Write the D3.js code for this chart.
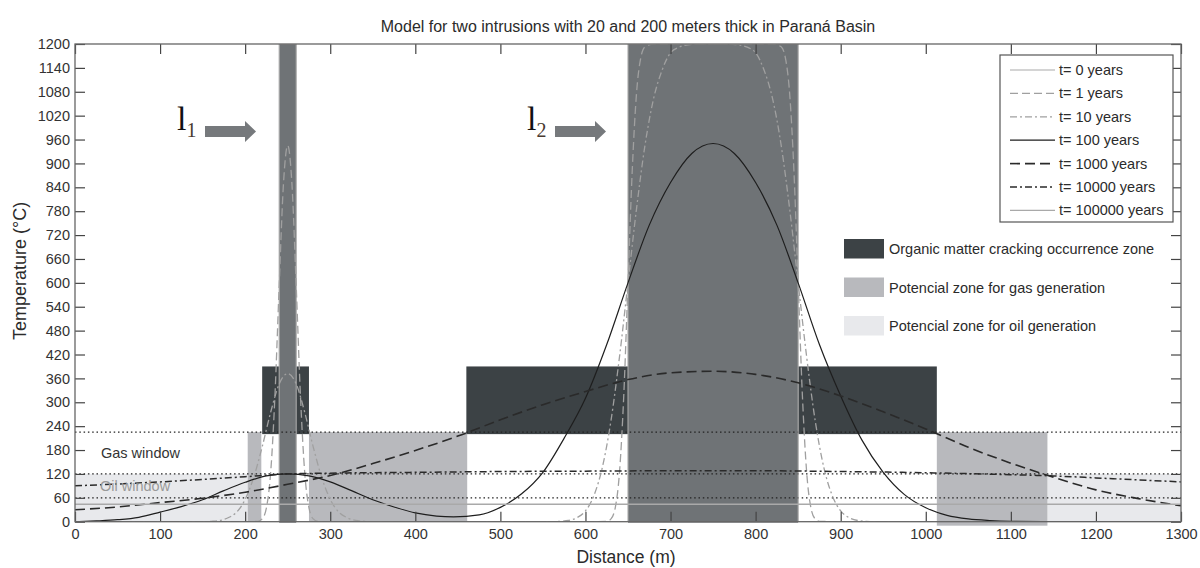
<!DOCTYPE html>
<html>
<head>
<meta charset="utf-8">
<script src="https://cdn.jsdelivr.net/npm/d3@7/dist/d3.min.js"></script>
<style>
  body { margin: 0; background: #fff; }
  text { font-family: "Liberation Sans", Arial, sans-serif; fill: #2b2b2b; }
</style>
</head>
<body>
<div id="chart"></div>
<script>
// axis ticks
const xTicks = [0, 100, 200, 300, 400, 500, 600, 700, 800, 900, 1000, 1100, 1200, 1300];
const yTicks = [0, 60, 120, 180, 240, 300, 360, 420, 480, 540, 600, 660, 720, 780, 840, 900, 960, 1020, 1080, 1140, 1200];

// shaded zones: [x0, x1] in metres, temperature range separately
const intrusions = [[240, 260], [650, 850]];
const intrusionTemp = [0, 1200];
const crackingZones = [[220, 275], [460, 650], [850, 1013]];
const crackingTemp = [220, 390];
const gasZones = [[203, 219, 0], [275, 461, 0], [1013, 1143, -10]];
const gasTop = 225;
const oilZones = [[0, 203], [1143, 1300]];
const oilTop = 120;
const windowLines = [225, 120, 60];

// temperature profiles [distance, temperature]
const t0 = [[0, 0], [240, 0], [240, 1200], [260, 1200], [260, 0], [650, 0], [650, 1200], [850, 1200], [850, 0], [1300, 0]];
const t1 = [[0, 0], [200, 0], [215, 1], [220, 7], [225, 35], [230, 124], [235, 316], [240, 593], [245, 848], [250, 945],
  [255, 848], [260, 593], [265, 316], [270, 124], [275, 35], [280, 7], [285, 1], [300, 0], [600, 0], [625, 1], [630, 7],
  [635, 35], [640, 124], [645, 316], [650, 600], [655, 883], [660, 1076], [665, 1165], [670, 1193], [680, 1200],
  [820, 1200], [830, 1193], [835, 1165], [840, 1076], [845, 883], [850, 600], [855, 316], [860, 124], [865, 35],
  [870, 7], [875, 1], [900, 0], [1300, 0]];
const t10 = [[0, 0], [150, 0], [160, 1], [170, 3], [180, 10], [190, 24], [200, 56], [210, 111], [220, 188], [230, 275],
  [240, 346], [250, 372], [260, 346], [270, 275], [280, 188], [290, 111], [300, 56], [310, 24], [320, 10], [330, 3],
  [340, 1], [350, 0], [560, 0], [570, 1], [580, 3], [590, 10], [600, 27], [610, 66], [620, 138], [630, 254], [640, 414],
  [650, 600], [660, 786], [670, 946], [680, 1062], [690, 1134], [700, 1178], [710, 1192], [720, 1198], [735, 1200],
  [765, 1200], [780, 1198], [790, 1192], [800, 1178], [810, 1134], [820, 1062], [830, 946], [840, 786], [850, 600],
  [860, 414], [870, 254], [880, 138], [890, 66], [900, 27], [910, 10], [920, 3], [930, 1], [940, 0], [1300, 0]];
const t100 = [[0, 0], [25, 2], [50, 5], [75, 11], [100, 24], [125, 38], [150, 55], [175, 78], [200, 99], [225, 115],
  [250, 120], [275, 115], [300, 100], [325, 78], [350, 55], [375, 37], [400, 22], [425, 14], [445, 12], [475, 17],
  [500, 36], [525, 70], [550, 124], [575, 210], [600, 310], [625, 445], [650, 600], [675, 745], [700, 852], [725, 925],
  [750, 950], [775, 925], [800, 852], [825, 745], [850, 600], [875, 445], [900, 316], [925, 205], [950, 124],
  [975, 68], [1000, 35], [1025, 16], [1050, 7], [1075, 3], [1100, 1], [1150, 0], [1300, 0]];
const t1000 = [[0, 30], [50, 37], [100, 48], [150, 59], [200, 74], [250, 94], [300, 116], [350, 146], [400, 179],
  [450, 215], [500, 256], [550, 294], [600, 327], [650, 357], [700, 374], [750, 378], [800, 370], [850, 349],
  [900, 316], [950, 276], [1000, 233], [1050, 187], [1100, 147], [1150, 112], [1200, 80], [1250, 58], [1300, 40]];
const t10000 = [[0, 90], [100, 100], [200, 113], [250, 120], [300, 122], [400, 124], [500, 126], [600, 127], [700, 128],
  [800, 128], [900, 126], [1000, 123], [1100, 118], [1150, 115], [1200, 110], [1250, 105], [1300, 100]];
const t100000 = [[0, 44], [325, 44], [650, 44], [975, 44], [1300, 44]];

const seriesLabels = ["t= 0 years", "t= 1 years", "t= 10 years", "t= 100 years", "t= 1000 years", "t= 10000 years", "t= 100000 years"];
const seriesData = [t0, t1, t10, t100, t1000, t10000, t100000];
const seriesStyle = [
  {stroke: "#a9a9a9", width: 1.1, dash: null},
  {stroke: "#a0a0a0", width: 1.3, dash: "8,4"},
  {stroke: "#a0a0a0", width: 1.3, dash: "7,3,2,3"},
  {stroke: "#1e1e1e", width: 1.2, dash: null},
  {stroke: "#2a2a2a", width: 1.6, dash: "10,5"},
  {stroke: "#2a2a2a", width: 1.5, dash: "7,3,2,3"},
  {stroke: "#a9a9a9", width: 1.4, dash: null}
];

const zoneLabels = ["Organic matter cracking occurrence zone", "Potencial zone for gas generation", "Potencial zone for oil generation"];
const zoneColors = ["#3c4245", "#b8b9bd", "#e8e9ec"];
const intrusionColor = "#6f7376";

const sans = "'Liberation Sans', Arial, sans-serif";
const serif = "'Liberation Serif', 'Times New Roman', serif";

const width = 1200, height = 568;
const margin = {top: 44, right: 19, bottom: 46.3, left: 75};

const svg = d3.select("#chart")
  .append("svg")
    .attr("width", width)
    .attr("height", height);

const x = d3.scaleLinear()
  .domain([0, 1300])
  .range([margin.left, width - margin.right]);

const y = d3.scaleLinear()
  .domain([0, 1200])
  .range([height - margin.bottom, margin.top]);

svg.append("clipPath").attr("id", "plotclip")
  .append("rect")
    .attr("x", x(0)).attr("y", y(1200))
    .attr("width", x(1300) - x(0)).attr("height", y(0) - y(1200));

const zones = svg.append("g");

// oil window zones
zones.selectAll(".oil")
  .data(oilZones)
  .join("rect")
    .attr("x", d => x(d[0]))
    .attr("y", y(oilTop))
    .attr("width", d => x(d[1]) - x(d[0]))
    .attr("height", y(0) - y(oilTop))
    .attr("fill", zoneColors[2]);

// gas zones
zones.selectAll(".gas")
  .data(gasZones)
  .join("rect")
    .attr("x", d => x(d[0]))
    .attr("y", y(gasTop))
    .attr("width", d => x(d[1]) - x(d[0]))
    .attr("height", d => y(d[2]) - y(gasTop))
    .attr("fill", zoneColors[1]);

// cracking zones
zones.selectAll(".crack")
  .data(crackingZones)
  .join("rect")
    .attr("x", d => x(d[0]))
    .attr("y", y(crackingTemp[1]))
    .attr("width", d => x(d[1]) - x(d[0]))
    .attr("height", y(crackingTemp[0]) - y(crackingTemp[1]))
    .attr("fill", zoneColors[0]);

// intrusions
zones.selectAll(".intr")
  .data(intrusions)
  .join("rect")
    .attr("x", d => x(d[0]))
    .attr("y", y(intrusionTemp[1]))
    .attr("width", d => x(d[1]) - x(d[0]))
    .attr("height", y(intrusionTemp[0]) - y(intrusionTemp[1]) + 1)
    .attr("fill", intrusionColor);

// window boundaries
svg.append("g")
  .selectAll("line")
  .data(windowLines)
  .join("line")
    .attr("x1", x(0)).attr("x2", x(1300))
    .attr("y1", d => y(d)).attr("y2", d => y(d))
    .attr("stroke", "#222")
    .attr("stroke-width", 1.3)
    .attr("stroke-dasharray", "1.5,2.8");

// curves
const line = d3.line()
  .x(d => x(d[0]))
  .y(d => y(d[1]))
  .curve(d3.curveMonotoneX);
const stepLine = d3.line()
  .x(d => x(d[0]))
  .y(d => y(d[1]));

svg.append("g")
  .attr("clip-path", "url(#plotclip)")
  .selectAll("path")
  .data(seriesData)
  .join("path")
    .attr("d", (d, i) => i == 0 ? stepLine(d) : line(d))
    .attr("fill", "none")
    .attr("stroke", (d, i) => seriesStyle[i].stroke)
    .attr("stroke-width", (d, i) => seriesStyle[i].width)
    .attr("stroke-dasharray", (d, i) => seriesStyle[i].dash);

// window labels
svg.append("text")
  .attr("x", 101).attr("y", 458)
  .style("font-size", "14.5px")
  .style("fill", "#333")
  .text("Gas window");
svg.append("text")
  .attr("x", 100).attr("y", 491)
  .style("font-size", "14.5px")
  .style("fill", "#999")
  .text("Oil window");

// axes, ticks pointing inward on all four sides
const axisColor = "#666";
const fmt = d3.format("d");
const xAxisB = svg.append("g")
  .attr("transform", `translate(0,${y(0)})`)
  .call(d3.axisBottom(x).tickValues(xTicks).tickFormat(fmt).tickSizeInner(-10).tickSizeOuter(0).tickPadding(7));
const xAxisT = svg.append("g")
  .attr("transform", `translate(0,${y(1200)})`)
  .call(d3.axisTop(x).tickValues(xTicks).tickSizeInner(-10).tickSizeOuter(0).tickFormat(""));
const yAxisL = svg.append("g")
  .attr("transform", `translate(${x(0)},0)`)
  .call(d3.axisLeft(y).tickValues(yTicks).tickFormat(fmt).tickSizeInner(-10).tickSizeOuter(0).tickPadding(5));
const yAxisR = svg.append("g")
  .attr("transform", `translate(${x(1300)},0)`)
  .call(d3.axisRight(y).tickValues(yTicks).tickSizeInner(-10).tickSizeOuter(0).tickFormat(""));

[xAxisB, xAxisT, yAxisL, yAxisR].forEach(a => {
  a.select(".domain").remove();
  a.selectAll("line").attr("stroke", "#444").attr("stroke-width", 1.2);
  a.selectAll("text").style("font-size", "14.5px").style("fill", "#333").style("font-family", sans);
});

svg.append("rect")
  .attr("x", x(0)).attr("y", y(1200))
  .attr("width", x(1300) - x(0)).attr("height", y(0) - y(1200))
  .attr("fill", "none")
  .attr("stroke", axisColor)
  .attr("stroke-width", 1.3);

// titles
svg.append("text")
  .attr("x", 628).attr("y", 32)
  .attr("text-anchor", "middle")
  .style("font-size", "16px")
  .text("Model for two intrusions with 20 and 200 meters thick in Paraná Basin");

svg.append("text")
  .attr("x", 626).attr("y", 563)
  .attr("text-anchor", "middle")
  .style("font-size", "17.5px")
  .text("Distance (m)");

svg.append("text")
  .attr("transform", "translate(26,271) rotate(-90)")
  .attr("text-anchor", "middle")
  .style("font-size", "18px")
  .text("Temperature (°C)");

// intrusion markers l1, l2 with arrows
const markers = [{name: "l", sub: "1", lx: 177, ax: 205}, {name: "l", sub: "2", lx: 527, ax: 555}];
markers.forEach(m => {
  const t = svg.append("text")
    .attr("x", m.lx).attr("y", 130)
    .style("font-family", serif)
    .style("font-size", "34px")
    .style("fill", "#111");
  t.append("tspan").text(m.name);
  t.append("tspan").attr("dy", 7).style("font-size", "20px").style("fill", "#4a3a30").text(m.sub);
  svg.append("path")
    .attr("d", `M${m.ax},126 H${m.ax + 40} V121 L${m.ax + 51},131.5 L${m.ax + 40},142 V137 H${m.ax} Z`)
    .attr("fill", "#76797c");
});

// line legend
const lg = svg.append("g").attr("transform", "translate(1000,55)");
lg.append("rect")
  .attr("width", 173).attr("height", 167)
  .attr("fill", "#fff")
  .attr("stroke", "#555")
  .attr("stroke-width", 1.2);
const lgItems = lg.selectAll("g")
  .data(seriesLabels)
  .join("g")
    .attr("transform", (d, i) => `translate(0,${15 + i * 23.4})`);
lgItems.append("line")
  .attr("x1", 10).attr("x2", 55)
  .attr("stroke", (d, i) => seriesStyle[i].stroke)
  .attr("stroke-width", (d, i) => seriesStyle[i].width)
  .attr("stroke-dasharray", (d, i) => seriesStyle[i].dash);
lgItems.append("text")
  .attr("x", 59).attr("y", 5)
  .style("font-size", "14.5px")
  .text(d => d);

// zone legend
const zg = svg.append("g").attr("transform", "translate(844,239)");
const zItems = zg.selectAll("g")
  .data(zoneLabels)
  .join("g")
    .attr("transform", (d, i) => `translate(0,${i * 38.5})`);
zItems.append("rect")
  .attr("width", 40).attr("height", 19.5)
  .attr("fill", (d, i) => zoneColors[i]);
zItems.append("text")
  .attr("x", 45).attr("y", 15)
  .style("font-size", "14.5px")
  .text(d => d);
</script>
</body>
</html>
